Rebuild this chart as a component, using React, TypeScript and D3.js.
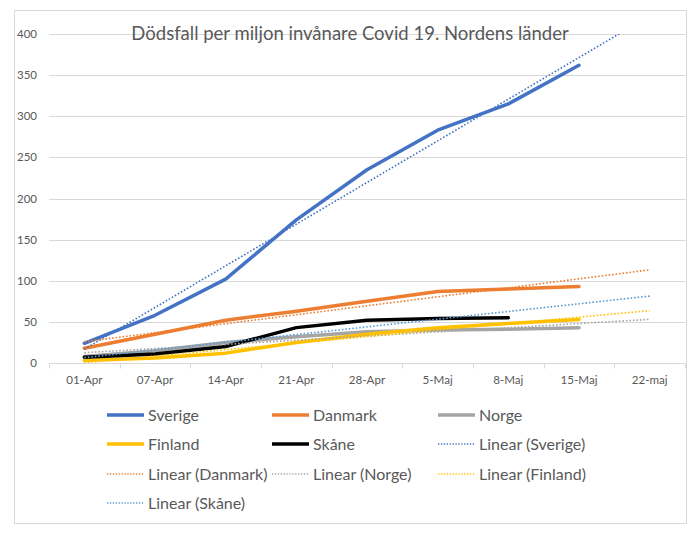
import { useEffect, useRef } from "react"
import * as d3 from "d3"

const categories = ["01-Apr", "07-Apr", "14-Apr", "21-Apr", "28-Apr", "5-Maj", "8-Maj", "15-Maj", "22-maj"]
const yTicks = [0, 50, 100, 150, 200, 250, 300, 350, 400]

const sverige = [24, 58, 102, 174, 235, 283, 315, 362]
const danmark = [18, 35, 52, 63, 75, 87, 90, 93]
const norge = [8, 15, 25, 32, 38, 40, 41, 43]
const finland = [3, 6, 12, 25, 35, 43, 48, 53]
const skane = [7, 11, 20, 43, 52, 54, 55]

const title = "Dödsfall per miljon invånare Covid 19. Nordens länder"

interface Series {
  name: string
  values: number[]
  color: string
  trendColor: string
}

const series: Series[] = [
  { name: "Sverige", values: sverige, color: "#4472C4", trendColor: "#4472C4" },
  { name: "Danmark", values: danmark, color: "#ED7D31", trendColor: "#ED7D31" },
  { name: "Norge", values: norge, color: "#A5A5A5", trendColor: "#A5A5A5" },
  { name: "Finland", values: finland, color: "#FFC000", trendColor: "#FFC000" },
  { name: "Skåne", values: skane, color: "#000000", trendColor: "#5B9BD5" },
]

const W = 700
const H = 541
const FONT = "Lato, 'Open Sans', sans-serif"

export default function App() {
  const svgRef = useRef<SVGSVGElement>(null)

  useEffect(() => {
    if (!svgRef.current) return
    const svg = d3.select(svgRef.current)
    svg.selectAll("*").remove()

    const plot = { left: 49, right: 685, top: 34, bottom: 363 }

    const x = d3.scaleBand<string>().domain(categories).range([plot.left, plot.right])
    const y = d3.scaleLinear().domain([0, 400]).range([plot.bottom, plot.top])
    const cx = (i: number) => (x(categories[i]) ?? 0) + x.bandwidth() / 2

    // chart border
    svg.append("rect")
      .attr("x", 14.5).attr("y", 10.5)
      .attr("width", 672).attr("height", 513)
      .attr("fill", "#fff").attr("stroke", "#d9d9d9")

    // gridlines
    svg.append("g")
      .selectAll("line")
      .data(yTicks.filter((t) => t > 0))
      .join("line")
      .attr("x1", plot.left).attr("x2", plot.right)
      .attr("y1", (d) => Math.round(y(d)) + 0.5).attr("y2", (d) => Math.round(y(d)) + 0.5)
      .attr("stroke", "#d9d9d9").attr("stroke-width", 1)

    // y labels
    svg.append("g")
      .selectAll("text")
      .data(yTicks)
      .join("text")
      .attr("x", 37).attr("y", (d) => y(d))
      .attr("dy", "0.35em")
      .attr("text-anchor", "end")
      .attr("font-family", FONT).attr("font-size", 11.5).attr("fill", "#595959")
      .text((d) => d)

    // x axis
    const xAxis = svg.append("g").attr("transform", `translate(0,${Math.round(plot.bottom) + 0.5})`)
    xAxis.append("line").attr("x1", plot.left).attr("x2", plot.right).attr("stroke", "#d9d9d9")
    xAxis.selectAll("line.tick")
      .data([...categories.map((c) => x(c) ?? 0), plot.right])
      .join("line")
      .attr("class", "tick")
      .attr("x1", (d) => Math.round(d) + 0.5).attr("x2", (d) => Math.round(d) + 0.5)
      .attr("y1", 0).attr("y2", 5)
      .attr("stroke", "#d9d9d9")
    xAxis.selectAll("text")
      .data(categories)
      .join("text")
      .attr("x", (_d, i) => cx(i)).attr("y", 20)
      .attr("text-anchor", "middle")
      .attr("font-family", FONT).attr("font-size", 11.6).attr("fill", "#595959")
      .text((d) => d)

    // title
    svg.append("text")
      .attr("x", 350).attr("y", 40)
      .attr("text-anchor", "middle")
      .attr("font-family", FONT).attr("font-size", 18.5).attr("fill", "#595959")
      .text(title)

    // clip for trend lines
    svg.append("defs").append("clipPath").attr("id", "plot-clip")
      .append("rect")
      .attr("x", plot.left).attr("y", plot.top)
      .attr("width", plot.right - plot.left).attr("height", plot.bottom - plot.top)

    const line = d3.line<number>().x((_d, i) => cx(i)).y((d) => y(d))

    // data lines
    svg.append("g")
      .selectAll("path")
      .data(series)
      .join("path")
      .attr("d", (s) => line(s.values))
      .attr("fill", "none")
      .attr("stroke", (s) => s.color)
      .attr("stroke-width", 3.5)
      .attr("stroke-linejoin", "round")
      .attr("stroke-linecap", "round")

    // linear trend lines (least squares, forecast to last category)
    const trend = (vals: number[]) => {
      const xs = vals.map((_v, i) => i)
      const mx = d3.mean(xs) ?? 0
      const my = d3.mean(vals) ?? 0
      const sxy = d3.sum(xs, (xi, i) => (xi - mx) * (vals[i] - my))
      const sxx = d3.sum(xs, (xi) => (xi - mx) ** 2)
      const slope = sxy / sxx
      const b = my - slope * mx
      const last = categories.length - 1
      return [[cx(0), y(b)], [cx(last), y(b + slope * last)]] as [number, number][]
    }

    svg.append("g")
      .attr("clip-path", "url(#plot-clip)")
      .selectAll("path")
      .data(series)
      .join("path")
      .attr("d", (s) => d3.line()(trend(s.values)))
      .attr("fill", "none")
      .attr("stroke", (s) => s.trendColor)
      .attr("stroke-width", 1.6)
      .attr("stroke-dasharray", "1.6 1.9")

    // legend
    const legendItems = [
      ...series.map((s) => ({ label: s.name, color: s.color, dotted: false })),
      ...series.map((s) => ({ label: `Linear (${s.name})`, color: s.trendColor, dotted: true })),
    ]
    const colX = [107, 272, 438]
    const rowY = [415, 444, 474, 503]
    const lg = svg.append("g")
      .selectAll("g")
      .data(legendItems)
      .join("g")
      .attr("transform", (_d, i) => `translate(${colX[i % 3]},${rowY[Math.floor(i / 3)]})`)
    lg.append("line")
      .attr("x1", 0).attr("x2", 37)
      .attr("stroke", (d) => d.color)
      .attr("stroke-width", (d) => (d.dotted ? 1.3 : 3.5))
      .attr("stroke-dasharray", (d) => (d.dotted ? "1.3 1.6" : null))
    lg.append("text")
      .attr("x", 41).attr("dy", "0.35em")
      .attr("font-family", FONT).attr("font-size", 16).attr("fill", "#595959")
      .text((d) => d.label)
  }, [])

  return (
    <div style={{ width: W, height: H, marginLeft: -8, marginTop: -8 }}>
      <svg ref={svgRef} width={W} height={H} />
    </div>
  )
}
